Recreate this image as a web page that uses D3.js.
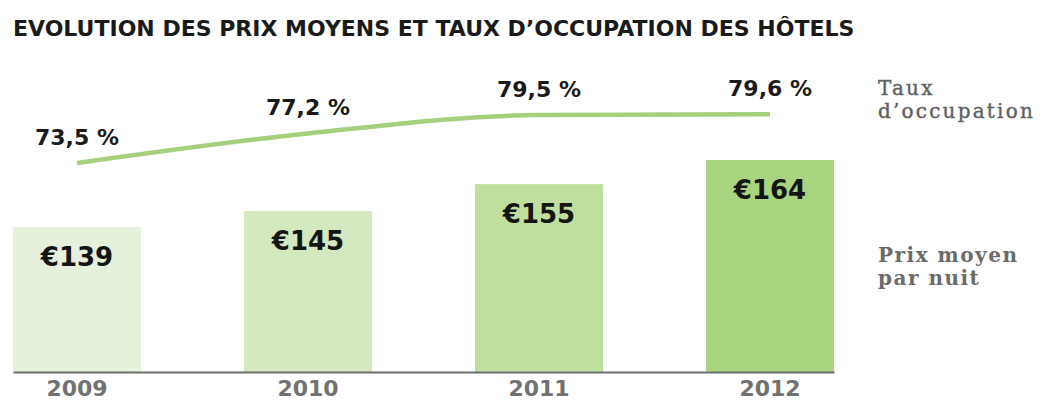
<!DOCTYPE html>
<html>
<head>
<meta charset="utf-8">
<script src="https://cdn.jsdelivr.net/npm/d3@7"></script>
<style>
  body { margin: 0; background: #fff; }
  svg { display: block; }
</style>
</head>
<body>
<svg width="1050" height="401"></svg>
<script>
// data
var years = ["2009", "2010", "2011", "2012"];
var prix = [139, 145, 155, 164];          // prix moyen par nuit, en euros
var taux = [73.5, 77.2, 79.5, 79.6];      // taux d'occupation, en %
var barColors = ["#e5f1da", "#d3e8bf", "#bfdf9f", "#a9d480"];

var svg = d3.select("svg");

var x = d3.scaleBand()
  .domain(years)
  .range([13, 834])
  .paddingInner(0.446)
  .paddingOuter(0);

var yPrix = d3.scaleLinear().domain([85, 164]).range([372, 160]);
var yTaux = d3.scaleLinear().domain([70, 80]).range([191, 111]);

var fmtTaux = function(v) { return d3.format(".1f")(v).replace(".", ",") + " %"; };

// title
svg.append("text")
  .attr("x", 13)
  .attr("y", 36)
  .attr("font-family", "DejaVu Sans")
  .attr("font-weight", "bold")
  .attr("font-size", 22)
  .attr("fill", "#1a1a1a")
  .text("EVOLUTION DES PRIX MOYENS ET TAUX D\u2019OCCUPATION DES HÔTELS");

// bars
var bars = svg.append("g")
  .selectAll("g")
  .data(years)
  .enter().append("g");

bars.append("rect")
  .attr("x", function(d) { return x(d); })
  .attr("y", function(d, i) { return yPrix(prix[i]); })
  .attr("width", x.bandwidth())
  .attr("height", function(d, i) { return yPrix.range()[0] - yPrix(prix[i]); })
  .attr("fill", function(d, i) { return barColors[i]; });

bars.append("text")
  .attr("x", function(d) { return x(d) + x.bandwidth() / 2; })
  .attr("y", function(d, i) { return yPrix(prix[i]) + 39; })
  .attr("text-anchor", "middle")
  .attr("font-family", "DejaVu Sans")
  .attr("font-weight", "bold")
  .attr("font-size", 26)
  .attr("fill", "#151515")
  .text(function(d, i) { return "€" + prix[i]; });

// axis
var axis = svg.append("g")
  .attr("transform", "translate(0,372)")
  .call(d3.axisBottom(x).tickSize(0).tickPadding(0));

axis.select(".domain")
  .attr("stroke", "#6f6f6f")
  .attr("stroke-width", 2);

axis.selectAll("text")
  .attr("y", 24)
  .attr("dy", 0)
  .attr("font-family", "DejaVu Sans")
  .attr("font-weight", "bold")
  .attr("font-size", 22)
  .attr("fill", "#727272");

// occupation line
var line = d3.line()
  .x(function(d, i) { return x(years[i]) + x.bandwidth() / 2; })
  .y(function(d) { return yTaux(d); })
  .curve(d3.curveMonotoneX);

svg.append("path")
  .datum(taux)
  .attr("d", line)
  .attr("fill", "none")
  .attr("stroke", "#a6d07d")
  .attr("stroke-width", 4.5);

svg.append("g")
  .selectAll("text")
  .data(taux)
  .enter().append("text")
  .attr("x", function(d, i) { return x(years[i]) + x.bandwidth() / 2; })
  .attr("y", function(d) { return yTaux(d) - 18; })
  .attr("text-anchor", "middle")
  .attr("font-family", "DejaVu Sans")
  .attr("font-weight", "bold")
  .attr("font-size", 22)
  .attr("fill", "#1a1a1a")
  .text(fmtTaux);

// legend labels
var legend = [
  { lines: ["Taux", "d\u2019occupation"], y: 95, weight: "normal", color: "#5f5f5f" },
  { lines: ["Prix moyen", "par nuit"], y: 262, weight: "bold", color: "#6b6b6b" }
];

legend.forEach(function(l) {
  svg.append("g")
    .selectAll("text")
    .data(l.lines)
    .enter().append("text")
    .attr("x", 878)
    .attr("y", function(d, i) { return l.y + i * 23; })
    .attr("font-family", "DejaVu Serif")
    .attr("font-weight", l.weight)
    .attr("font-size", 20)
    .attr("letter-spacing", l.weight === "bold" ? 1.5 : 2.2)
    .attr("stroke", l.color)
    .attr("stroke-width", l.weight === "bold" ? 0 : 0.4)
    .attr("fill", l.color)
    .text(function(d) { return d; });
});
</script>
</body>
</html>
